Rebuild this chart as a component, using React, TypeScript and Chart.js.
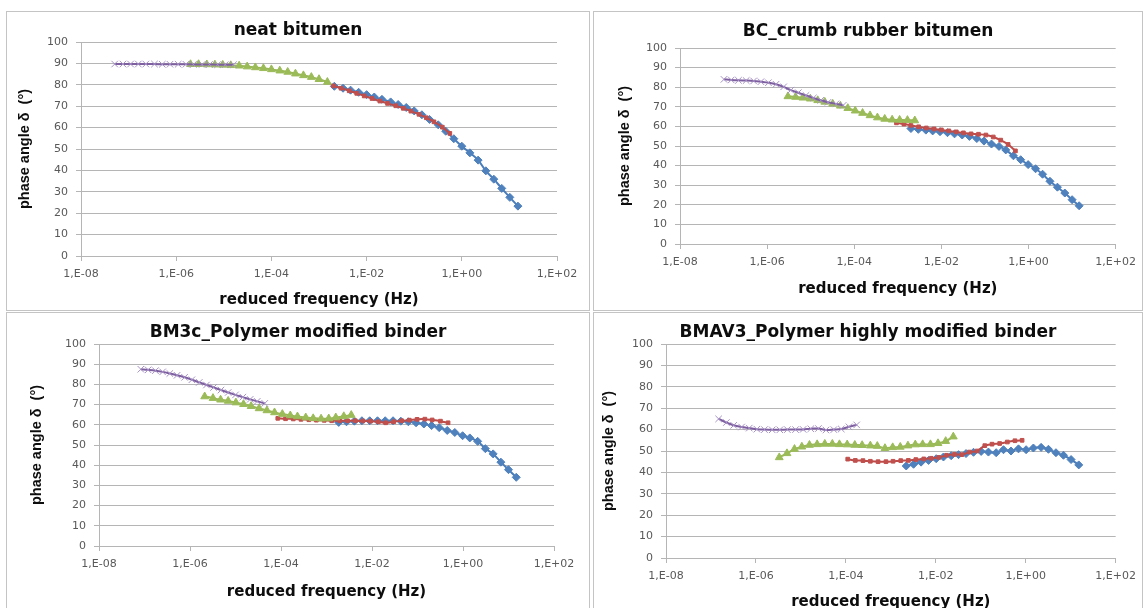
import React, { useEffect, useRef } from 'react';
import { Chart, registerables } from 'chart.js';

Chart.register(...registerables);

// ---------- Panel titles & axis texts ----------
const panelTitles = [
  'neat bitumen',
  'BC_crumb rubber bitumen',
  'BM3c_Polymer modified binder',
  'BMAV3_Polymer highly modified binder',
];
const xAxisTitle = 'reduced frequency (Hz)';
const yAxisTitle = 'phase angle δ  (°)';
const xTickExponents = [-8, -6, -4, -2, 0, 2];

// ---------- Panel 1: neat bitumen ----------
const neatBlueFreq = [2.1e-3, 3.2e-3, 4.6e-3, 6.8e-3, 1.0e-2, 1.45e-2, 2.1e-2, 3.2e-2, 4.6e-2, 6.8e-2, 0.10, 0.145, 0.21, 0.32, 0.46, 0.68, 1.0, 1.48, 2.2, 3.2, 4.7, 6.9, 10.2, 15.1];
const neatBluePhase = [79.3, 78.4, 77.5, 76.5, 75.4, 74.3, 73.2, 72.0, 70.8, 69.4, 67.8, 66.0, 63.8, 61.3, 58.3, 54.8, 51.3, 48.2, 44.8, 39.8, 35.9, 31.6, 27.4, 23.3];
const neatRedFreq = [2.0e-3, 2.9e-3, 4.3e-3, 6.2e-3, 8.9e-3, 1.3e-2, 1.9e-2, 2.75e-2, 4.1e-2, 5.9e-2, 8.5e-2, 0.126, 0.18, 0.26, 0.39, 0.56];
const neatRedPhase = [79.5, 78.4, 77.2, 76.0, 74.8, 73.6, 72.4, 71.3, 70.2, 69.0, 67.7, 66.2, 64.6, 62.7, 60.2, 57.3];
const neatGreenFreq = [2.0e-6, 2.95e-6, 4.4e-6, 6.5e-6, 9.5e-6, 1.4e-5, 2.1e-5, 3.1e-5, 4.6e-5, 6.8e-5, 1.0e-4, 1.5e-4, 2.2e-4, 3.2e-4, 4.7e-4, 6.9e-4, 1.0e-3, 1.5e-3];
const neatGreenPhase = [89.6, 89.6, 89.5, 89.4, 89.3, 89.1, 88.9, 88.5, 88.1, 87.7, 87.2, 86.6, 86.0, 85.2, 84.4, 83.6, 82.6, 81.3];
const neatPurpleFreq = [5.1e-8, 7.6e-8, 1.1e-7, 1.6e-7, 2.3e-7, 3.5e-7, 5.1e-7, 7.4e-7, 1.1e-6, 1.6e-6, 2.3e-6, 3.5e-6, 5.0e-6, 7.4e-6, 1.07e-5, 1.6e-5];
const neatPurplePhase = [89.7, 89.7, 89.7, 89.7, 89.7, 89.7, 89.6, 89.6, 89.6, 89.6, 89.5, 89.5, 89.5, 89.4, 89.4, 89.4];

// ---------- Panel 2: BC_crumb rubber bitumen ----------
const crumbBlueFreq = [2.0e-3, 2.95e-3, 4.4e-3, 6.3e-3, 9.3e-3, 1.38e-2, 2.0e-2, 3.0e-2, 4.4e-2, 6.5e-2, 9.5e-2, 0.141, 0.21, 0.30, 0.45, 0.66, 0.98, 1.45, 2.1, 3.1, 4.6, 6.8, 10, 14.5];
const crumbBluePhase = [58.9, 58.5, 58.1, 57.7, 57.3, 56.8, 56.2, 55.6, 54.9, 53.8, 52.5, 51.0, 49.8, 48.0, 45.0, 43.0, 40.5, 38.4, 35.6, 32.0, 29.0, 26.0, 22.6, 19.5];
const crumbRedFreq = [9.3e-4, 1.38e-3, 2.0e-3, 3.0e-3, 4.5e-3, 6.8e-3, 1.0e-2, 1.48e-2, 2.2e-2, 3.2e-2, 4.8e-2, 7.1e-2, 0.105, 0.155, 0.23, 0.34, 0.50];
const crumbRedPhase = [61.8, 61.2, 60.5, 59.8, 59.2, 58.7, 58.2, 57.7, 57.2, 56.7, 56.2, 56.0, 55.6, 54.6, 53.0, 50.8, 47.5];
const crumbGreenFreq = [3.0e-6, 4.5e-6, 6.6e-6, 9.8e-6, 1.45e-5, 2.1e-5, 3.2e-5, 4.8e-5, 7.1e-5, 1.05e-4, 1.55e-4, 2.3e-4, 3.4e-4, 5.0e-4, 7.4e-4, 1.1e-3, 1.66e-3, 2.45e-3];
const crumbGreenPhase = [75.3, 75.0, 74.6, 74.1, 73.3, 72.5, 71.5, 70.5, 69.3, 68.0, 66.8, 65.6, 64.5, 63.8, 63.4, 63.3, 63.2, 63.0];
const crumbPurpleFreq = [1.02e-7, 1.5e-7, 2.2e-7, 3.3e-7, 4.9e-7, 7.2e-7, 1.07e-6, 1.6e-6, 2.4e-6, 3.5e-6, 5.2e-6, 7.8e-6, 1.15e-5, 1.7e-5, 2.5e-5, 3.8e-5, 5.6e-5];
const crumbPurplePhase = [84.0, 83.7, 83.5, 83.4, 83.2, 82.8, 82.3, 81.5, 80.2, 78.5, 77.2, 75.8, 74.5, 73.3, 72.3, 71.5, 70.8];

// ---------- Panel 3: BM3c_Polymer modified binder ----------
const bm3BlueFreq = [1.86e-3, 2.75e-3, 4.1e-3, 6.0e-3, 8.9e-3, 1.32e-2, 1.95e-2, 2.9e-2, 4.3e-2, 6.3e-2, 9.3e-2, 0.138, 0.204, 0.30, 0.45, 0.66, 0.98, 1.41, 2.1, 3.1, 4.6, 6.8, 10.0, 14.8];
const bm3BluePhase = [61.2, 61.5, 61.8, 62.0, 62.0, 62.0, 62.0, 62.0, 61.8, 61.5, 61.0, 60.4, 59.6, 58.6, 57.2, 56.2, 54.6, 53.5, 51.8, 48.2, 45.6, 41.5, 37.8, 34.0];
const bm3RedFreq = [8.5e-5, 1.26e-4, 1.86e-4, 2.75e-4, 4.1e-4, 6.0e-4, 8.9e-4, 1.3e-3, 1.95e-3, 2.9e-3, 4.3e-3, 6.3e-3, 9.3e-3, 1.38e-2, 2.0e-2, 3.0e-2, 4.5e-2, 6.6e-2, 9.8e-2, 0.145, 0.21, 0.32, 0.47];
const bm3RedPhase = [63.2, 63.0, 62.9, 62.7, 62.5, 62.3, 62.2, 62.0, 62.0, 62.0, 62.0, 61.9, 61.8, 61.5, 61.0, 61.5, 62.0, 62.3, 62.7, 62.8, 62.4, 61.8, 61.0];
const bm3GreenFreq = [2.1e-6, 3.2e-6, 4.7e-6, 6.9e-6, 1.02e-5, 1.5e-5, 2.2e-5, 3.3e-5, 4.9e-5, 7.2e-5, 1.07e-4, 1.6e-4, 2.3e-4, 3.5e-4, 5.1e-4, 7.6e-4, 1.12e-3, 1.6e-3, 2.4e-3, 3.5e-3];
const bm3GreenPhase = [74.0, 73.2, 72.4, 71.8, 71.0, 70.2, 69.2, 68.1, 67.1, 66.1, 65.3, 64.6, 64.1, 63.6, 63.2, 63.0, 63.1, 63.6, 64.2, 64.8];
const bm3PurpleFreq = [8.3e-8, 1.2e-7, 1.74e-7, 2.5e-7, 3.6e-7, 5.2e-7, 7.6e-7, 1.1e-6, 1.6e-6, 2.3e-6, 3.3e-6, 4.8e-6, 6.9e-6, 1.0e-5, 1.45e-5, 2.1e-5, 3.0e-5, 4.4e-5];
const bm3PurplePhase = [87.5, 87.2, 86.8, 86.2, 85.4, 84.5, 83.5, 82.3, 81.0, 79.7, 78.5, 77.2, 76.0, 74.8, 73.7, 72.6, 71.6, 70.6];

// ---------- Panel 4: BMAV3_Polymer highly modified binder ----------
const bmavBlueFreq = [2.2e-3, 3.2e-3, 4.7e-3, 6.9e-3, 1.02e-2, 1.48e-2, 2.2e-2, 3.2e-2, 4.7e-2, 6.9e-2, 0.102, 0.148, 0.22, 0.32, 0.47, 0.69, 1.02, 1.48, 2.2, 3.2, 4.7, 6.9, 10.2, 15.1];
const bmavBluePhase = [43.0, 43.8, 44.8, 45.6, 46.4, 47.2, 47.8, 48.3, 48.8, 49.4, 49.8, 49.5, 49.2, 50.6, 50.0, 51.0, 50.6, 51.4, 51.7, 50.8, 49.2, 48.0, 46.0, 43.5];
const bmavRedFreq = [1.1e-4, 1.62e-4, 2.4e-4, 3.5e-4, 5.2e-4, 7.8e-4, 1.12e-3, 1.66e-3, 2.45e-3, 3.6e-3, 5.4e-3, 7.9e-3, 1.17e-2, 1.74e-2, 2.6e-2, 3.8e-2, 5.6e-2, 8.3e-2, 0.123, 0.178, 0.263, 0.39, 0.575, 0.83];
const bmavRedPhase = [46.2, 45.6, 45.5, 45.2, 45.0, 45.0, 45.2, 45.5, 45.6, 46.0, 46.3, 46.6, 47.0, 48.0, 48.4, 48.3, 49.5, 50.0, 52.5, 53.2, 53.5, 54.2, 54.8, 55.0];
const bmavGreenFreq = [3.3e-6, 4.9e-6, 7.2e-6, 1.05e-5, 1.55e-5, 2.3e-5, 3.4e-5, 5.0e-5, 7.2e-5, 1.07e-4, 1.58e-4, 2.3e-4, 3.5e-4, 5.0e-4, 7.4e-4, 1.1e-3, 1.62e-3, 2.4e-3, 3.5e-3, 5.1e-3, 7.6e-3, 1.12e-2, 1.66e-2, 2.45e-2];
const bmavGreenPhase = [47.0, 48.9, 50.9, 52.0, 52.8, 53.1, 53.3, 53.3, 53.1, 53.0, 52.8, 52.7, 52.5, 52.3, 51.3, 51.7, 51.9, 52.5, 53.0, 53.1, 53.1, 53.6, 54.6, 56.7];
const bmavPurpleFreq = [1.48e-7, 2.2e-7, 3.2e-7, 4.8e-7, 7.1e-7, 1.05e-6, 1.55e-6, 2.3e-6, 3.4e-6, 5.0e-6, 7.6e-6, 1.12e-5, 1.66e-5, 2.45e-5, 3.6e-5, 5.4e-5, 7.9e-5, 1.17e-4, 1.74e-4];
const bmavPurplePhase = [65.0, 63.3, 62.0, 61.2, 60.7, 60.2, 60.0, 59.9, 59.9, 60.0, 60.0, 60.1, 60.4, 60.5, 59.8, 60.0, 60.3, 61.3, 62.2];

// ---------- Styles ----------
const GRID = '#b5b5b5';
const TICK_TEXT = '#595959';

type SeriesStyle = {
  line: string; fill: string; edge: string; pointStyle: string; radius: number; order: number;
};
const BLUE: SeriesStyle = { line: '#4A7EBB', fill: '#4F81BD', edge: '#4F81BD', pointStyle: 'rectRot', radius: 4, order: 3 };
const RED: SeriesStyle = { line: '#BE4B48', fill: '#C0504D', edge: '#C0504D', pointStyle: 'rect', radius: 2.6, order: 2 };
const GREEN: SeriesStyle = { line: '#98B954', fill: '#9BBB59', edge: '#9BBB59', pointStyle: 'triangle', radius: 4.5, order: 1 };
const PURPLE: SeriesStyle = { line: '#7D5FA0', fill: 'rgba(0,0,0,0)', edge: '#A792C6', pointStyle: 'crossRot', radius: 4.6, order: 0 };

type Series = { freq: number[]; phase: number[]; style: SeriesStyle };
type Geo = {
  left: number; top: number; width: number; height: number;
  yWidth: number; xHeight: number; padSide: number;
  titleTop: number; titleBottom: number; xTitleBottom: number; yTitleTop: number;
};

// yWidth = width of the y scale box (after the left layout padding padSide)
const panels: { title: string; series: Series[]; geo: Geo }[] = [
  {
    title: panelTitles[0],
    series: [
      { freq: neatBlueFreq, phase: neatBluePhase, style: BLUE },
      { freq: neatRedFreq, phase: neatRedPhase, style: RED },
      { freq: neatGreenFreq, phase: neatGreenPhase, style: GREEN },
      { freq: neatPurpleFreq, phase: neatPurplePhase, style: PURPLE },
    ],
    geo: { left: 6, top: 11, width: 584, height: 300, yWidth: 42, xHeight: 55, padSide: 33, titleTop: 9.8, titleBottom: 0.8, xTitleBottom: 2, yTitleTop: -22.7 },
  },
  {
    title: panelTitles[1],
    series: [
      { freq: crumbBlueFreq, phase: crumbBluePhase, style: BLUE },
      { freq: crumbRedFreq, phase: crumbRedPhase, style: RED },
      { freq: crumbGreenFreq, phase: crumbGreenPhase, style: GREEN },
      { freq: crumbPurpleFreq, phase: crumbPurplePhase, style: PURPLE },
    ],
    geo: { left: 593, top: 11, width: 550, height: 300, yWidth: 60, xHeight: 67, padSide: 27, titleTop: 10, titleBottom: 6.6, xTitleBottom: 13, yTitleTop: -3.7 },
  },
  {
    title: panelTitles[2],
    series: [
      { freq: bm3BlueFreq, phase: bm3BluePhase, style: BLUE },
      { freq: bm3RedFreq, phase: bm3RedPhase, style: RED },
      { freq: bm3GreenFreq, phase: bm3GreenPhase, style: GREEN },
      { freq: bm3PurpleFreq, phase: bm3PurplePhase, style: PURPLE },
    ],
    geo: { left: 6, top: 312, width: 584, height: 310, yWidth: 57, xHeight: 76, padSide: 36, titleTop: 10.8, titleBottom: 0.8, xTitleBottom: 21, yTitleTop: -13.7 },
  },
  {
    title: panelTitles[3],
    series: [
      { freq: bmavBlueFreq, phase: bmavBluePhase, style: BLUE },
      { freq: bmavRedFreq, phase: bmavRedPhase, style: RED },
      { freq: bmavGreenFreq, phase: bmavGreenPhase, style: GREEN },
      { freq: bmavPurpleFreq, phase: bmavPurplePhase, style: PURPLE },
    ],
    geo: { left: 593, top: 312, width: 550, height: 310, yWidth: 50, xHeight: 64, padSide: 23, titleTop: 10.8, titleBottom: 0.8, xTitleBottom: 11, yTitleTop: -15.7 },
  },
];

const formatTick = (v: number) => {
  const e = Math.round(Math.log10(v));
  const sign = e < 0 ? '-' : '+';
  return `1,E${sign}${String(Math.abs(e)).padStart(2, '0')}`;
};

function Panel({ title, series, geo }: { title: string; series: Series[]; geo: Geo }) {
  const ref = useRef<HTMLCanvasElement | null>(null);

  useEffect(() => {
    if (!ref.current) return;
    const datasets = series.map((s) => ({
      data: s.freq.map((f, i) => ({ x: f, y: s.phase[i] })),
      showLine: true,
      tension: 0.4,
      borderColor: s.style.line,
      borderWidth: 2,
      backgroundColor: s.style.fill,
      pointBackgroundColor: s.style.fill,
      pointBorderColor: s.style.edge,
      pointBorderWidth: 1,
      pointStyle: s.style.pointStyle as any,
      pointRadius: s.style.radius,
      pointHoverRadius: s.style.radius,
      order: s.style.order,
    }));

    const chart = new Chart(ref.current, {
      type: 'scatter',
      data: { datasets },
      options: {
        animation: false,
        responsive: false,
        devicePixelRatio: 1,
        layout: { padding: { left: geo.padSide, right: geo.padSide, top: 0, bottom: 0 } },
        plugins: {
          legend: { display: false },
          tooltip: { enabled: false },
          title: {
            display: true,
            text: title,
            color: '#0d0d0d',
            font: { family: 'DejaVu Sans', size: 17, weight: 'bold', lineHeight: 1.2 },
            padding: { top: geo.titleTop, bottom: geo.titleBottom },
          },
        },
        scales: {
          x: {
            type: 'logarithmic',
            min: 1e-8,
            max: 1e2,
            afterBuildTicks: (scale: any) => {
              scale.ticks = xTickExponents.map((e) => ({ value: Math.pow(10, e) }));
            },
            afterFit: (scale: any) => {
              scale.height = geo.xHeight;
            },
            grid: { drawOnChartArea: false, drawTicks: true, tickLength: 5, color: GRID, lineWidth: 1 },
            border: { display: true, color: GRID, width: 1 },
            ticks: {
              autoSkip: false,
              maxRotation: 0,
              padding: 7,
              color: TICK_TEXT,
              font: { family: 'DejaVu Sans', size: 11 },
              callback: (v: any) => formatTick(Number(v)),
            },
            title: {
              display: true,
              text: xAxisTitle,
              color: '#0d0d0d',
              font: { family: 'DejaVu Sans', size: 15, weight: 'bold', lineHeight: 1.2 },
              padding: { top: 0, bottom: geo.xTitleBottom },
            },
          },
          y: {
            type: 'linear',
            min: 0,
            max: 100,
            afterFit: (scale: any) => {
              scale.width = geo.yWidth;
            },
            grid: { drawOnChartArea: true, drawTicks: true, tickLength: 5, color: GRID, lineWidth: 1 },
            border: { display: true, color: GRID, width: 1 },
            ticks: {
              stepSize: 10,
              padding: 8,
              color: TICK_TEXT,
              font: { family: 'DejaVu Sans', size: 11 },
            },
            title: {
              display: true,
              text: yAxisTitle,
              color: '#0d0d0d',
              font: { family: 'Liberation Sans', size: 14.5, weight: 'bold', lineHeight: 1.2 },
              padding: { top: geo.yTitleTop, bottom: 0 },
            },
          },
        },
      } as any,
    });
    return () => chart.destroy();
  }, [title, series, geo]);

  return (
    <>
      <div
        style={{
          position: 'absolute',
          left: geo.left,
          top: geo.top,
          width: geo.width,
          height: geo.height,
          boxSizing: 'border-box',
          border: '1px solid #c4c4c4',
        }}
      />
      <canvas
        ref={ref}
        width={geo.width}
        height={geo.height}
        style={{ position: 'absolute', left: geo.left, top: geo.top, width: geo.width, height: geo.height, display: 'block' }}
      />
    </>
  );
}

export default function App() {
  return (
    <div
      style={{
        position: 'fixed',
        left: 0,
        top: 0,
        width: 1146,
        height: 608,
        overflow: 'hidden',
        background: '#ffffff',
      }}
    >
      {panels.map((p, i) => (
        <Panel key={i} title={p.title} series={p.series} geo={p.geo} />
      ))}
    </div>
  );
}
